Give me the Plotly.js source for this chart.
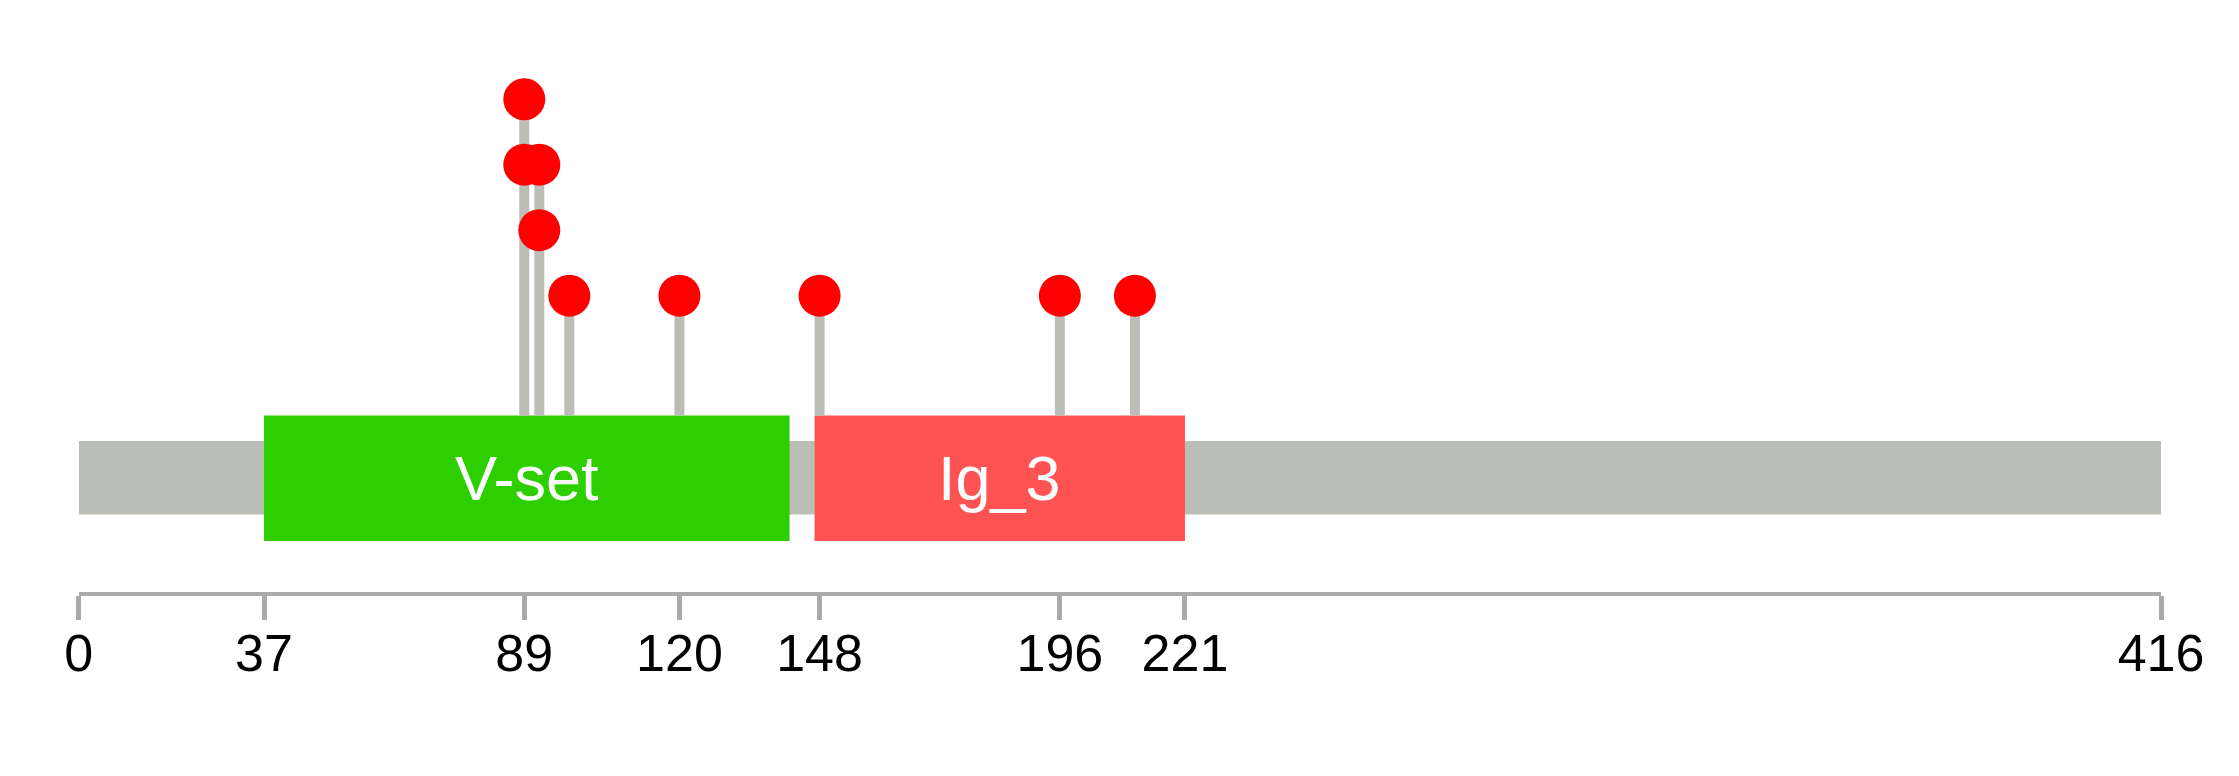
<!DOCTYPE html>
<html>
<head>
<meta charset="utf-8">
<script src="https://cdn.plot.ly/plotly-3.0.1.min.js"></script>
<style>html,body{margin:0;padding:0;background:#fff;}#chart{width:2239px;height:776px;}</style>
</head>
<body>
<div id="chart"></div>
<script>
// ---- data ----
const proteinLength = 416;
const domainNames = ["V-set", "Ig_3"];
const domainStarts = [37, 147];
const domainEnds = [142, 221];
const domainColors = ["#2ECF00", "#FF5353"];
const mutPositions = [89, 89, 92, 92, 98, 120, 148, 196, 211];
const mutCounts = [4, 3, 3, 2, 1, 1, 1, 1, 1];
const tickValues = [0, 37, 89, 120, 148, 196, 221, 416];
const tickLabels = ["0", "37", "89", "120", "148", "196", "221", "416"];

// ---- vertical layout constants (y units) ----
const backboneTop = -1.218, backboneBottom = -2.34;
const domainTop = -0.829, domainBottom = -2.745;

// stems: one segment per position up to max count
const stemX = [], stemY = [];
const maxByPos = {};
mutPositions.forEach((p, i) => { maxByPos[p] = Math.max(maxByPos[p] || 0, mutCounts[i]); });
Object.keys(maxByPos).forEach(k => {
  const p = Number(k);
  stemX.push(p, p, null);
  stemY.push(domainTop, maxByPos[k], null);
});

const shapes = [{
  type: "rect", xref: "x", yref: "y", layer: "below",
  x0: 0, x1: proteinLength, y0: backboneBottom, y1: backboneTop,
  fillcolor: "#BBBEB5", line: {width: 0}
}];
const annotations = [];
domainNames.forEach((name, i) => {
  shapes.push({
    type: "rect", xref: "x", yref: "y", layer: "below",
    x0: domainStarts[i], x1: domainEnds[i], y0: domainBottom, y1: domainTop,
    fillcolor: domainColors[i], line: {width: 0}
  });
  annotations.push({
    x: (domainStarts[i] + domainEnds[i]) / 2, y: (domainTop + domainBottom) / 2,
    xref: "x", yref: "y", text: name, showarrow: false,
    xanchor: "center", yanchor: "middle",
    font: {family: "Arial, 'Liberation Sans', sans-serif", size: 63, color: "#FFFFFF"}
  });
});

const traces = [
  {
    x: stemX, y: stemY, type: "scatter", mode: "lines",
    line: {color: "#BBBDB6", width: 10}, hoverinfo: "skip", showlegend: false
  },
  {
    x: mutPositions, y: mutCounts, type: "scatter", mode: "markers",
    marker: {color: "#FF0000", size: 42, line: {width: 0}},
    cliponaxis: false, showlegend: false
  }
];

const layout = {
  width: 2239, height: 776,
  margin: {l: 0, r: 0, t: 0, b: 0},
  paper_bgcolor: "#FFFFFF", plot_bgcolor: "#FFFFFF",
  showlegend: false,
  xaxis: {
    domain: [78.8 / 2239, 2161 / 2239],
    range: [0, proteinLength],
    anchor: "free", position: 1 - 594 / 776,
    showgrid: false, zeroline: false,
    showline: true, linecolor: "#AAAAAA", linewidth: 4,
    ticks: "outside", ticklen: 24, tickwidth: 5, tickcolor: "#AAAAAA",
    tickmode: "array", tickvals: tickValues, ticktext: tickLabels,
    tickfont: {family: "Arial, 'Liberation Sans', sans-serif", size: 52, color: "#000000"},
    ticklabelstandoff: -11,
    fixedrange: true
  },
  yaxis: {
    domain: [0, 1],
    range: [-6.333, 5.515],
    visible: false, showgrid: false, zeroline: false, fixedrange: true
  },
  shapes: shapes,
  annotations: annotations
};

Plotly.newPlot("chart", traces, layout, {staticPlot: true, displayModeBar: false});
</script>
</body>
</html>
